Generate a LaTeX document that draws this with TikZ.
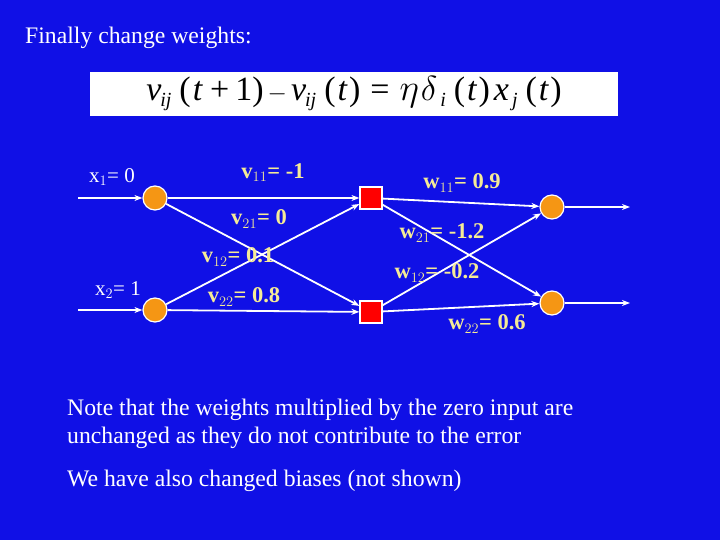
\documentclass[tikz,border=0pt]{standalone}
\usepackage{fontspec}
\setmainfont{Liberation Serif}
\usetikzlibrary{arrows.meta}
\definecolor{bg}{RGB}{16,16,230}
\definecolor{lab}{RGB}{245,235,150}
\definecolor{org}{RGB}{245,150,20}
\newcommand{\sbx}[1]{\raisebox{-6pt}{\fontsize{20}{20}\selectfont\itshape #1}}
\newcommand{\pt}[1]{\upshape(\hspace{2pt}\itshape #1\upshape\hspace{2pt})}
\begin{document}
\begin{tikzpicture}[x=1pt,y=-1pt,
  inp/.style={circle,fill=org,draw=white,line width=1.2pt,minimum size=24pt,inner sep=0},
  hid/.style={rectangle,fill=red,draw=white,line width=1.2pt,minimum size=22pt,inner sep=0},
  con/.style={white,line width=1.8pt,-{Stealth[length=8pt,width=6pt]}},
  lbl/.style={text=lab,font=\bfseries\fontsize{22.5}{24}\selectfont,inner sep=0},
  xl/.style={text=white,font=\fontsize{21}{23}\selectfont,inner sep=0},
  tx/.style={text=white,font=\fontsize{23.7}{28}\selectfont,inner sep=0,anchor=west,align=left}]
\fill[bg] (0,0) rectangle (720,540);
\useasboundingbox (0,0) rectangle (720,540);
\node[tx] (title) at (25,38) {Finally change weights:};
\node[fill=white,minimum width=528pt,minimum height=44pt,inner sep=0] (eq) at (354,94)
 {\fontsize{34}{36}\selectfont\itshape v\kern-1pt\sbx{ij}\hspace{8pt}\upshape(\hspace{2pt}\itshape t\upshape\hspace{8pt}+\hspace{6pt}1)\hspace{4pt}$-$\hspace{4pt}\itshape v\kern-1pt\sbx{ij}\hspace{8pt}\pt{t}\hspace{10pt}=\hspace{10pt}\scalebox{1.5}{$\eta$}\hspace{2pt}\scalebox{1.4}{$\delta$}\hspace{3pt}\sbx{i}\hspace{8pt}\pt{t}\hspace{4pt}\itshape x\hspace{3pt}\sbx{j}\hspace{8pt}\pt{t}};
\node[inp] (i1) at (155,198) {};
\node[inp] (i2) at (155,310) {};
\node[hid] (h1) at (371,198) {};
\node[hid] (h2) at (371,312) {};
\node[inp] (o1) at (552,207) {};
\node[inp] (o2) at (552,303) {};
\coordinate (s1) at (78,198); \coordinate (s2) at (78,310);
\coordinate (e1) at (630,207); \coordinate (e2) at (630,303);
\draw[con] (s1) -- (i1); \draw[con] (s2) -- (i2);
\draw[con] (i1) -- (h1); \draw[con] (i1) -- (h2);
\draw[con] (i2) -- (h1); \draw[con] (i2) -- (h2);
\draw[con] (h1) -- (o1); \draw[con] (h1) -- (o2);
\draw[con] (h2) -- (o1); \draw[con] (h2) -- (o2);
\draw[con] (o1) -- (e1); \draw[con] (o2) -- (e2);
\node[xl] (x1) at (112,177) {x$_1$= 0};
\node[xl] (x2) at (118,290) {x$_2$= 1};
\node[lbl] (v11) at (273,173) {v$_{11}$= -1};
\node[lbl] (v21) at (259,219) {v$_{21}$= 0};
\node[lbl] (v12) at (238,257) {v$_{12}$= 0.1};
\node[lbl] (v22) at (244,297) {v$_{22}$= 0.8};
\node[lbl] (w11) at (462,183) {w$_{11}$= 0.9};
\node[lbl] (w21) at (442,233) {w$_{21}$= -1.2};
\node[lbl] (w12) at (437,273) {w$_{12}$= -0.2};
\node[lbl] (w22) at (487,324) {w$_{22}$= 0.6};
\node[tx] (n1) at (67,424) {Note that the weights multiplied by the zero input are\\unchanged as they do not contribute to the error};
\node[tx] (n2) at (67,481) {We have also changed biases (not shown)};
\end{tikzpicture}
\end{document}
